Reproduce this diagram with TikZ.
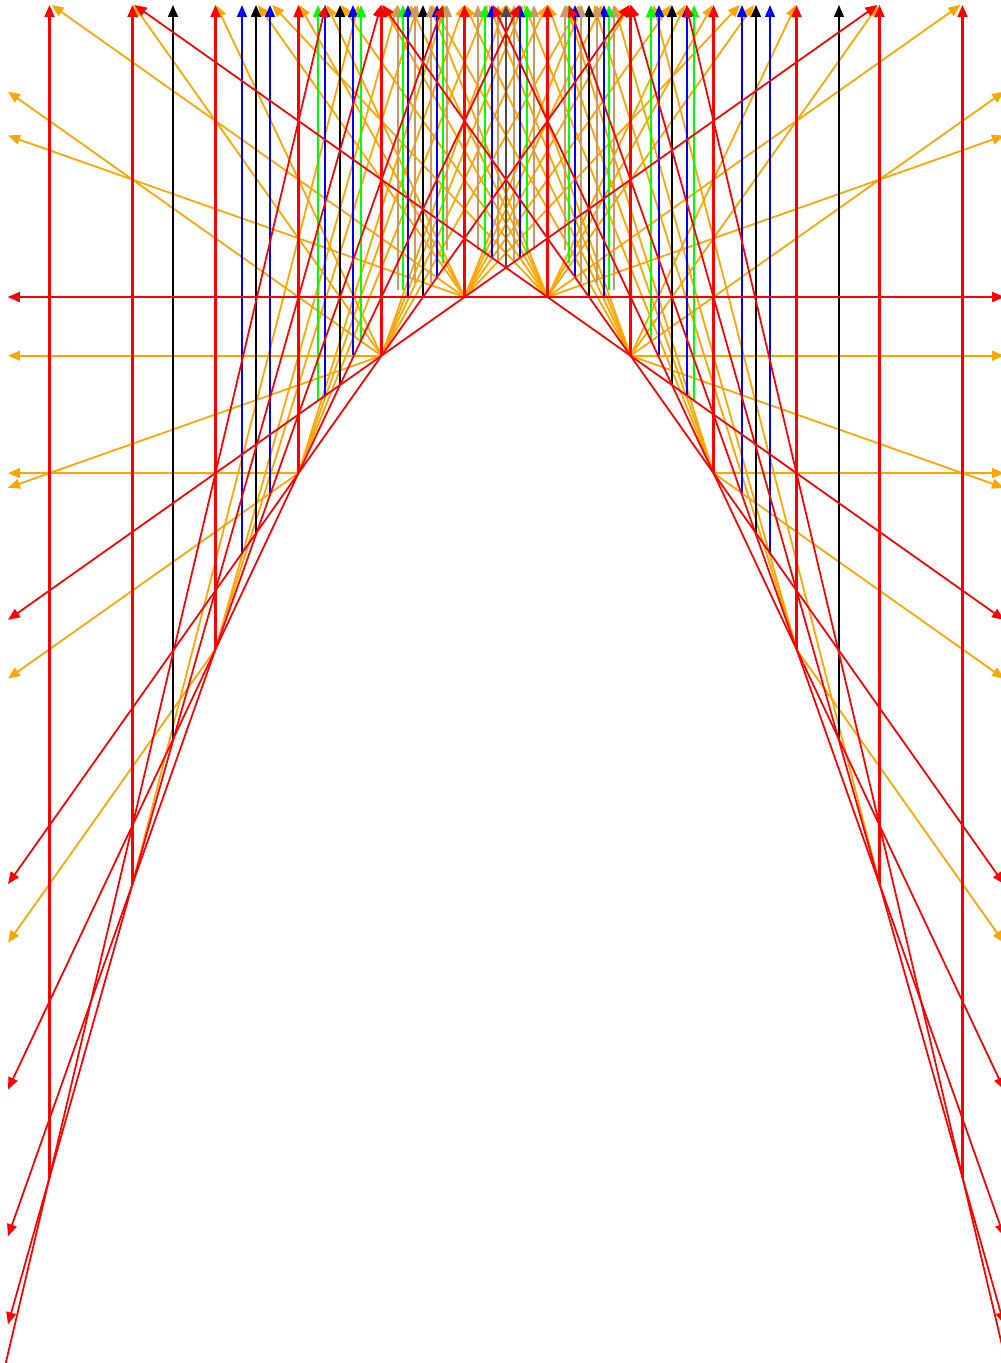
\documentclass[tikz,border=0pt]{standalone}
\usepackage{tikz}
\usetikzlibrary{arrows.meta}
\definecolor{RayRed}{HTML}{FF0000}
\definecolor{RayOrange}{HTML}{FFA500}
\definecolor{RayGreen}{HTML}{00FF00}
\definecolor{RayBlue}{HTML}{0000FF}
\definecolor{RayTan}{HTML}{CC9966}
\newcommand{\rayfrom}[3]{%
  \pgfmathsetmacro{\rxa}{506+83*(#2)}%
  \pgfmathsetmacro{\rya}{297+29.35*((#2)*(#2)-0.25)}%
  \pgfmathsetmacro{\rdx}{83*((#2)-(#3))}%
  \pgfmathsetmacro{\rdy}{29.35*((#2)*(#2)-(#3)*(#3))}%
  \ifdim\rdx pt>0.01pt \pgfmathsetmacro{\rtx}{(1004-\rxa)/\rdx}%
  \else\ifdim\rdx pt<-0.01pt \pgfmathsetmacro{\rtx}{(8-\rxa)/\rdx}%
  \else\def\rtx{999}\fi\fi
  \ifdim\rdy pt<-0.01pt \pgfmathsetmacro{\rty}{(5-\rya)/\rdy}%
  \else\ifdim\rdy pt>0.01pt \pgfmathsetmacro{\rty}{(1400-\rya)/\rdy}%
  \else\def\rty{999}\fi\fi
  \pgfmathsetmacro{\rt}{min(\rtx,\rty)}%
  \draw[#1,->] (\rxa,\rya) -- ({\rxa+\rt*\rdx},{\rya+\rt*\rdy});%
}

\begin{document}
\begin{tikzpicture}[x=0.01cm,y=-0.01cm,line width=0.5pt,>={Triangle[length=3.4pt,width=2.8pt]}]
\useasboundingbox (0,0) rectangle (1001,1363);
\clip (0,0) rectangle (1001,1363);
\coordinate (top) at (506,5);
\foreach \i/\k in {1/0.5,2/1.5,3/2.5,4/3.5,5/4.5,6/5.5,7/6.5} {
  \coordinate (L\i) at ({506-83*\k},{297+29.35*(\k*\k-0.25)});
  \coordinate (R\i) at ({506+83*\k},{297+29.35*(\k*\k-0.25)});
}
\foreach \a/\b in {-1.5/1.5,-2.5/2.5,-0.5/1.5,-1.5/0.5,-0.5/2.5,-2.5/0.5,-1.5/3.5,-0.5/4.5,-0.5/5.5,-0.5/6.5,-1.5/5.5,-1.5/7.5,-3.5/-0.5,-0.5/-2.5,-0.5/-3.5,-0.5/-4.5,-0.5/-5.5,-0.5/-6.5,-1.5/-3.5,-1.5/-4.5,-1.5/-5.5,-1.5/-6.5,-2.5/-4.5,-2.5/-5.5,-2.5/-6.5,-3.5/-5.5,-3.5/-6.5,-4.5/-6.5} {
  \rayfrom{RayOrange}{\a}{\b}
  \rayfrom{RayOrange}{-(\a)}{-(\b)}
}
\foreach \x/\y/\c in {173/740/black,242/553/RayBlue,256/533/black,270/493/RayBlue,318/400/RayGreen,325/395/RayBlue,340/385/black,353/355/RayBlue,361/342/RayGreen,398/290/RayTan,403/290/RayGreen,408/297/RayBlue,415/283/RayTan,423/297/black,431/283/RayTan,437/277/RayBlue,443/263/RayGreen,447/250/RayTan,478/250/RayTan,485/255/RayGreen,492/258/RayBlue,498/262/RayTan} {
  \draw[\c,->] (\x,\y) -- (\x,5);
  \draw[\c,->] ({1012-\x},\y) -- ({1012-\x},5);
}
\draw[black!70,->] (506,268) -- (top);
\foreach \i in {1,...,6} {
  \draw[RayRed,line width=0.58pt,->] (L\i) -- (L\i |- top);
  \draw[RayRed,line width=0.58pt,->] (R\i) -- (R\i |- top);
}
\draw[RayRed] (L7) \foreach \i in {6,...,1} { -- (L\i) } \foreach \i in {1,...,7} { -- (R\i) };
\foreach \a/\b in {-0.5/0.5,-0.5/-1.5,-1.5/-2.5,-2.5/-3.5,-3.5/-4.5,-4.5/-5.5} {
  \rayfrom{RayRed}{\a}{\b}
  \rayfrom{RayRed}{\b}{\a}
  \rayfrom{RayRed}{-(\a)}{-(\b)}
  \rayfrom{RayRed}{-(\b)}{-(\a)}
}
\rayfrom{RayRed}{-5.5}{-6.5}
\rayfrom{RayRed}{5.5}{6.5}
\end{tikzpicture}
\end{document}
